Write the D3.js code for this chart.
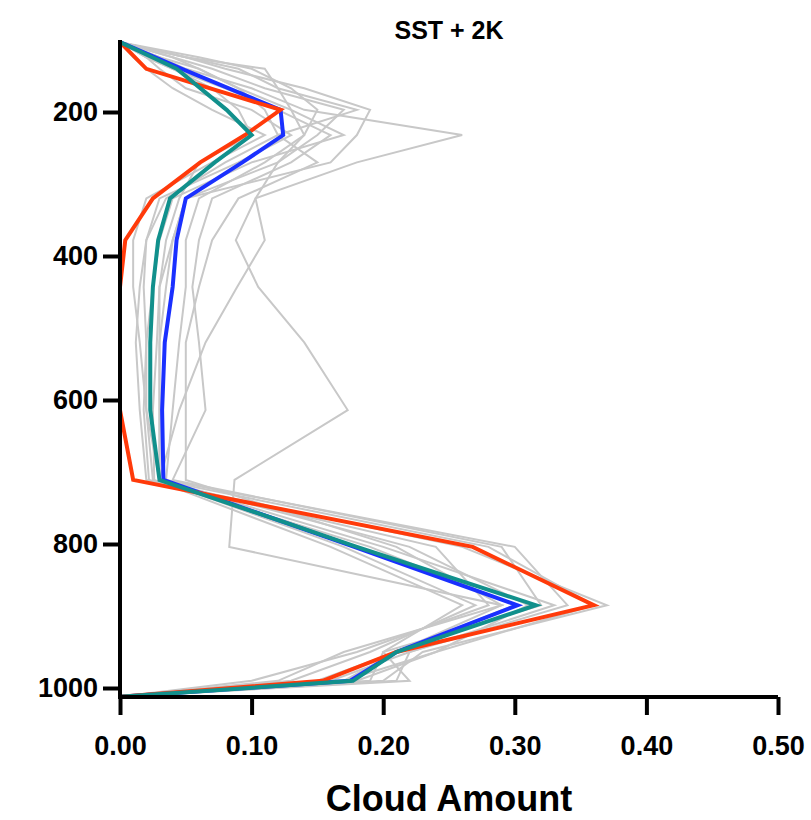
<!DOCTYPE html>
<html><head><meta charset="utf-8">
<script src="https://cdn.jsdelivr.net/npm/d3@7"></script>
<style>body{margin:0;background:#fff}svg{display:block}</style>
</head><body>
<svg id="c" width="811" height="820"></svg>
<script>
// Pressure levels (hPa) for the highlighted profiles
const levels = [103,140,197,232,270,320,378,443,520,614,711,804,885,950,990,1012];
const blueVals = [0,0.047,0.122,0.124,0.093,0.050,0.043,0.040,0.034,0.032,0.033,0.178,0.302,0.210,0.175,0];
const redVals  = [0,0.020,0.122,0.095,0.061,0.025,0.004,0,0,0,0.010,0.268,0.360,0.210,0.154,0];
const tealVals = [0,0.043,0.081,0.100,0.072,0.038,0.029,0.025,0.023,0.023,0.030,0.180,0.316,0.210,0.177,0];

// Individual model profiles (grey)
const greyLevels = [103,124,140,167,197,232,270,320,378,443,520,614,711,804,885,950,990,1012];
const grey1  = [0,0.05,0.08,0.14,0.19,0.18,0.16,0.05,0.04,0.035,0.03,0.03,0.03,0.20,0.33,0.22,0.16,0];
const grey2  = [0,0.03,0.05,0.10,0.14,0.26,0.18,0.103,0.088,0.105,0.14,0.173,0.087,0.083,0.29,0.21,0.17,0];
const grey3  = [0,0.04,0.07,0.11,0.17,0.15,0.12,0.103,0.11,0.089,0.065,0.045,0.03,0.22,0.31,0.24,0.18,0];
const grey4  = [0,0.02,0.03,0.05,0.10,0.13,0.09,0.03,0.02,0.015,0.012,0.015,0.02,0.26,0.37,0.23,0.20,0];
const grey5  = [0,0.06,0.10,0.13,0.15,0.14,0.11,0.06,0.05,0.05,0.045,0.04,0.035,0.30,0.34,0.22,0.21,0];
const grey6  = [0,0.02,0.04,0.08,0.12,0.16,0.13,0.07,0.06,0.055,0.06,0.065,0.04,0.29,0.32,0.20,0.19,0];
const grey7  = [0,0.03,0.06,0.09,0.13,0.17,0.10,0.04,0.03,0.025,0.02,0.02,0.025,0.19,0.30,0.21,0.15,0];
const grey8  = [0,0.05,0.09,0.12,0.18,0.12,0.08,0.035,0.02,0.018,0.02,0.018,0.022,0.24,0.28,0.18,0.10,0];
const grey9  = [0,0.01,0.02,0.04,0.07,0.11,0.07,0.02,0.01,0.01,0.015,0.02,0.03,0.17,0.27,0.19,0.13,0];
const grey10 = [0,0.04,0.06,0.09,0.11,0.12,0.15,0.09,0.07,0.06,0.05,0.05,0.05,0.21,0.29,0.17,0.12,0];
const grey11 = [0,0.05,0.11,0.12,0.13,0.14,0.12,0.05,0.04,0.03,0.028,0.025,0.026,0.16,0.26,0.20,0.22,0];
const grey12 = [0,0.02,0.04,0.07,0.09,0.10,0.06,0.045,0.035,0.03,0.03,0.03,0.03,0.28,0.36,0.24,0.17,0];
const greySeries = [grey1,grey2,grey3,grey4,grey5,grey6,grey7,grey8,grey9,grey10,grey11,grey12];

const xTicks = [0,0.1,0.2,0.3,0.4,0.5];
const yTicks = [200,400,600,800,1000];
const title = "SST + 2K";
const xLabel = "Cloud Amount";

const svg = d3.select("#c");
const x = d3.scaleLinear().domain([0,0.5]).range([120,778]);
const y = d3.scaleLinear().domain([100,1012.5]).range([40,697]);

const line = d3.line().x(d=>x(d[0])).y(d=>y(d[1]));
const toPts = (vals, lv) => vals.map((v,i)=>[v, lv[i]]);

const g = svg.append("g");
greySeries.forEach(s=>{
  g.append("path").attr("d", line(toPts(s, greyLevels)))
   .attr("fill","none").attr("stroke","#c8c8c8").attr("stroke-width",2).attr("stroke-linejoin","miter");
});
[[blueVals,"#1a30ff"],[redVals,"#ff3a0a"],[tealVals,"#11908c"]].forEach(([s,c])=>{
  g.append("path").attr("d", line(toPts(s, levels)))
   .attr("fill","none").attr("stroke",c).attr("stroke-width",4).attr("stroke-linejoin","miter");
});

const font = "'Liberation Sans', Arial, sans-serif";
// x axis
const xa = svg.append("g").attr("transform","translate(0,697)")
  .call(d3.axisBottom(x).tickValues(xTicks).tickFormat(d3.format(".2f")).tickSize(18).tickPadding(21));
xa.select(".domain").attr("stroke","#000").attr("stroke-width",4).attr("d","M120,0H778");
xa.selectAll(".tick line").attr("stroke","#000").attr("stroke-width",4);
xa.selectAll(".tick text").attr("font-family",font).attr("font-weight","bold").attr("font-size",27).attr("fill","#000");

// y axis
const ya = svg.append("g").attr("transform","translate(120,0)")
  .call(d3.axisLeft(y).tickValues(yTicks).tickFormat(d3.format("d")).tickSize(17).tickPadding(5));
ya.select(".domain").attr("stroke","#000").attr("stroke-width",4).attr("d","M0,40V699");
ya.selectAll(".tick line").attr("stroke","#000").attr("stroke-width",4);
ya.selectAll(".tick text").attr("font-family",font).attr("font-weight","bold").attr("font-size",27).attr("fill","#000");

svg.append("text").attr("x",449).attr("y",39).attr("text-anchor","middle")
  .attr("font-family",font).attr("font-weight","bold").attr("font-size",25).text(title);
svg.append("text").attr("x",449).attr("y",811).attr("text-anchor","middle")
  .attr("font-family",font).attr("font-weight","bold").attr("font-size",36).text(xLabel);
</script>
</body></html>
